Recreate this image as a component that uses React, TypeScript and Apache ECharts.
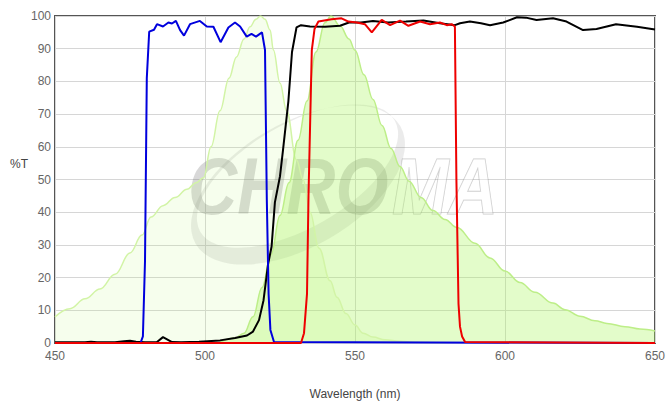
import React, { useEffect, useRef } from "react";
import * as echarts from "echarts";

// Excitation spectrum (light green, left)
const exWl = [450, 455, 460, 465, 470, 475, 479, 482, 486, 490, 494, 497, 499.5, 502, 505, 508, 510.5, 513, 515, 517, 518.5, 520, 521.7, 522.8, 525, 527.2, 530.5, 532.7, 535, 538, 541.7, 544, 547, 550, 552.7, 556, 560, 565, 570, 580];
const exT = [8, 10.5, 13.5, 16.5, 21, 27.5, 33, 38.5, 42, 44.5, 47, 49, 50.5, 60, 71, 81, 87.5, 93, 96.7, 99, 100, 99, 95.7, 89.6, 79.5, 71, 56, 50, 40, 29, 19, 14, 9, 5.5, 3, 1.8, 1, 0.5, 0.2, 0];

// Emission spectrum (green, right)
const fsWl = [505, 510, 513, 516, 519, 522, 525, 528, 531, 534, 537, 540, 542, 545, 548, 550, 553, 556, 559, 562, 565, 568, 572, 576, 580, 584, 590, 595, 600, 605, 610, 616, 620, 625, 630, 634, 640, 645, 650];
const fsT = [0.3, 1.5, 3, 8, 17, 27, 39, 49, 62, 74, 89, 98, 100, 97, 93, 89.5, 82, 74.5, 66.5, 59.5, 54, 49.5, 44.5, 40.5, 37.8, 35.3, 30.5, 26, 22, 18.5, 15.5, 12.2, 10.2, 8.2, 6.8, 6, 5, 4.3, 3.7];

// Dichroic (black)
const dcWl = [450, 455, 460, 462, 464, 470, 473, 475, 477, 480, 484, 486, 489, 492, 498, 505, 510, 514, 516, 518, 519.5, 521, 522.2, 523.3, 525, 526, 527.8, 529, 530.5, 532, 535, 540, 545, 548, 552, 556, 561, 567, 572.8, 578.3, 583.3, 585, 588.3, 592, 595, 599.4, 604, 607, 610.5, 616, 620.5, 626, 630.5, 637, 644, 650];
const dcT = [0.2, 0.2, 0.2, 0.4, 0.2, 0.2, 0.5, 0.7, 0.4, 0.2, 0.3, 1.8, 0.3, 0.2, 0.4, 0.8, 1.5, 2.3, 3.5, 7, 13, 24, 29.5, 43, 51, 59, 74, 89, 96.5, 97.2, 96.8, 96.7, 97, 98, 98, 98.5, 98, 98.3, 98.6, 97.8, 97.2, 97.8, 98.3, 97.8, 97.2, 98, 99.6, 99.5, 98.8, 99.3, 98.3, 95.7, 96, 97.5, 96.7, 95.9];

// Excitation filter (blue)
const bpWl = [450, 478.5, 479.3, 480, 480.6, 481.4, 483, 484, 486, 487.8, 489, 490.3, 491.7, 493, 495, 498.3, 500.6, 502.8, 505.2, 507.8, 510, 511.7, 513.9, 515.5, 517, 519, 520, 520.6, 521.2, 521.8, 523, 650];
const bpT = [0, 0, 2, 25, 81, 95.2, 95.8, 97.5, 96.8, 98, 97.7, 98.5, 95.7, 94, 97.5, 98.5, 96.8, 96.7, 92, 96.5, 98, 96.8, 93.7, 94.5, 93.7, 95, 89.6, 44, 15, 4, 0.3, 0];

// Emission filter (red)
const emWl = [450, 532, 533, 534, 534.5, 535.6, 536.5, 537.8, 542.2, 545.5, 547.8, 550.6, 553.3, 555.6, 558.9, 561.7, 565, 567.8, 571.7, 575, 578.3, 580.6, 582.2, 583.3, 583.8, 584.5, 585, 585.7, 586.7, 650];
const emT = [0, 0, 3, 15, 45, 89.6, 96, 98.3, 99, 99.3, 98.3, 98, 97.5, 95, 98.8, 97.2, 98.6, 97, 98.3, 97.5, 98, 97.2, 97.5, 96.8, 50, 12, 5, 2, 0.3, 0];

const xTicks = [450, 500, 550, 600, 650];

const zip = (a: number[], b: number[]) => a.map((v, i) => [v, b[i]]);

const crescentD =
  "M -118 0 A 118 62 0 1 0 118 0 A 118 62 0 1 0 -118 0 Z " +
  "M -108 -8 A 112 52 0 1 1 116 -8 A 112 52 0 1 1 -108 -8 Z";

let registered = false;

export default function App() {
  const ref = useRef<HTMLDivElement>(null);
  useEffect(() => {
    document.body.style.margin = "0";
    if (!registered) {
      echarts.graphic.registerShape("crescent", echarts.graphic.extendPath(crescentD, {}));
      registered = true;
    }
    const chart = echarts.init(ref.current!, null, { renderer: "svg" });
    const font = "'Liberation Sans', Arial, sans-serif";
    const lineSeries = (name: string, wl: number[], t: number[], color: string, z: number) => ({
      name,
      type: "line",
      data: zip(wl, t),
      symbol: "none",
      z,
      lineStyle: { color, width: 2 },
    });
    chart.setOption({
      animation: false,
      textStyle: { fontFamily: font },
      grid: {
        left: 55,
        right: 16,
        top: 16,
        bottom: 63,
        show: true,
        borderColor: "#555",
        borderWidth: 2,
        backgroundColor: "transparent",
      },
      xAxis: {
        type: "value",
        min: xTicks[0],
        max: xTicks[xTicks.length - 1],
        interval: 50,
        name: "Wavelength (nm)",
        nameLocation: "middle",
        nameGap: 45,
        nameTextStyle: { color: "#444", fontSize: 12, fontFamily: font },
        axisLine: { show: false },
        axisTick: { show: false },
        axisLabel: { color: "#666", fontSize: 12, margin: 7, fontFamily: font },
        splitLine: { show: true, lineStyle: { color: "#d6d6d6", width: 1 } },
      },
      yAxis: {
        type: "value",
        min: 0,
        max: 100,
        interval: 10,
        axisLine: { show: false },
        axisTick: { show: false },
        axisLabel: { color: "#666", fontSize: 12, margin: 4, fontFamily: font },
        splitLine: { show: true, lineStyle: { color: "#d6d6d6", width: 1 } },
      },
      graphic: [
        {
          type: "text",
          left: 10,
          top: 158,
          style: { text: "%T", fill: "#444", font: `12px ${font}` },
        },
        {
          type: "crescent",
          x: 298,
          y: 185,
          rotation: 0.52,
          z: 1,
          silent: true,
          style: { fill: "rgba(120,120,120,0.15)" },
        },
        {
          type: "text",
          x: 188,
          y: 147,
          z: 1,
          silent: true,
          scaleX: 0.92,
          scaleY: 1.08,
          style: {
            text: "CHRO",
            fill: "rgba(110,110,110,0.27)",
            font: `italic bold 74px ${font}`,
          },
        },
        {
          type: "text",
          x: 392,
          y: 147,
          z: 1,
          silent: true,
          scaleX: 0.92,
          scaleY: 1.08,
          style: {
            text: "MA",
            fill: "rgba(255,255,255,0.35)",
            stroke: "rgba(110,110,110,0.35)",
            lineWidth: 1,
            font: `italic bold 74px ${font}`,
          },
        },
      ],
      series: [
        {
          name: "Excitation",
          type: "line",
          data: zip(exWl, exT),
          symbol: "none",
          smooth: 0.4,
          smoothMonotone: "x",
          z: 2,
          lineStyle: { color: "#d2f4a6", width: 1.5 },
          areaStyle: { color: "rgba(190,250,130,0.2)" },
        },
        {
          name: "Emission",
          type: "line",
          data: zip(fsWl, fsT),
          symbol: "none",
          smooth: 0.4,
          smoothMonotone: "x",
          z: 2,
          lineStyle: { color: "#bdee88", width: 1.5 },
          areaStyle: { color: "rgba(165,245,85,0.45)" },
        },
        lineSeries("Dichroic", dcWl, dcT, "#000000", 3),
        lineSeries("Exciter", bpWl, bpT, "#0000dd", 4),
        lineSeries("Emitter", emWl, emT, "#ee0000", 5),
      ],
    });
    return () => chart.dispose();
  }, []);
  return <div ref={ref} style={{ width: 671, height: 406 }} />;
}
